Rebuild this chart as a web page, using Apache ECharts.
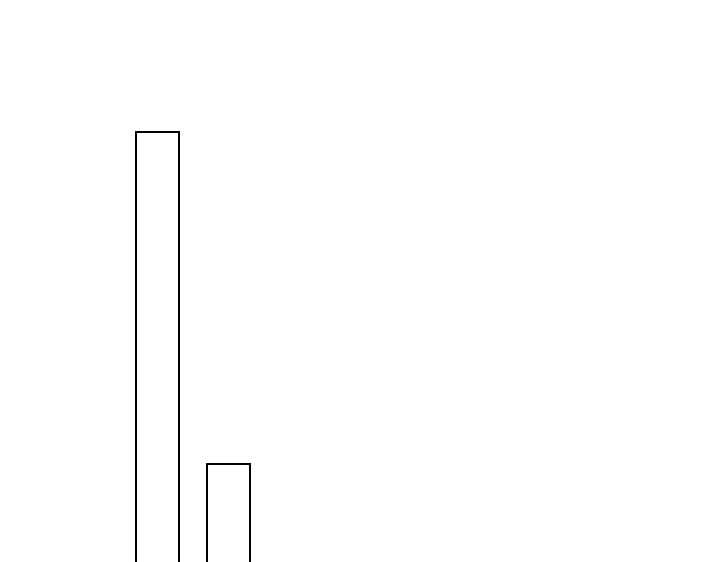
<!DOCTYPE html>
<html>
<head>
<meta charset="utf-8">
<script src="https://cdn.jsdelivr.net/npm/echarts@6/dist/echarts.min.js"></script>
<style>html,body{margin:0;padding:0;background:#fff;}#c{width:720px;height:562px;}</style>
</head>
<body>
<div id="c"></div>
<script>
var categories = ['A', 'B'];
var values = [469, 137];
var chart = echarts.init(document.getElementById('c'), null, {renderer: 'canvas'});
chart.setOption({
  animation: false,
  backgroundColor: '#ffffff',
  grid: {left: 122, width: 142, top: 131, bottom: 0, containLabel: false},
  xAxis: {type: 'category', data: categories, show: false},
  yAxis: {type: 'value', min: 38, max: 469, show: false},
  series: [{
    type: 'bar',
    data: values,
    barWidth: 45,
    clip: false,
    itemStyle: {color: '#ffffff', borderColor: '#000000', borderWidth: 2}
  }]
});
</script>
</body>
</html>
